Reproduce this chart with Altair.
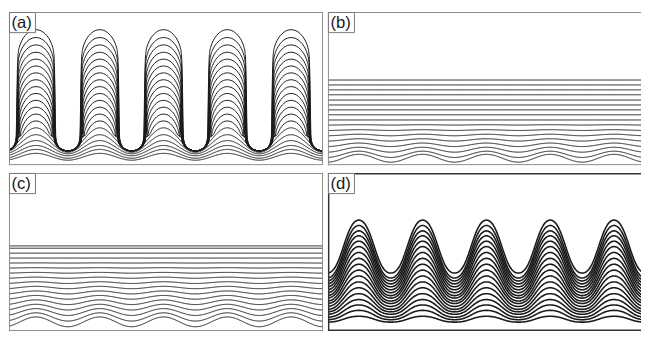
import altair as alt
import numpy as np
import pandas as pd

PERIOD = 65.0  # wavelength in reference pixels

# ---------------- panel (a): finger growth (reference page px, y down) -------------
A_CREST = [152, 148, 144, 139, 133, 126, 119, 112, 105, 98, 91, 84, 77, 70,
           63, 56, 49, 41.5, 34, 26]
A_TROUGH = [159, 157, 154.5, 152.5, 151, 150, 149.5, 149.5, 149.5, 149.5, 149.5,
            149.5, 149.5, 149.5, 149.5, 149.5, 149.5, 149.5, 149.5, 149.5]
A_CREST_X0 = 35.5
# finger cap profile: half width vs depth below the crest
ARCH_DX = [0, 4, 8, 11, 13.5, 15.5, 17, 18, 18.5, 18.9, 19.3, 19.7, 20.0, 20.2]
ARCH_DEPTH = [0, 0.7, 3, 6, 9.5, 13.6, 18, 23, 29, 40, 60, 85, 110, 130]
# trough profile: half width vs height above the trough bottom
U_DU = [0, 3, 6, 8.5, 10.5, 11.7, 12.3]
U_H = [0, 0.4, 1.6, 3.5, 6.5, 10, 14]

# ---------------- panel (b): fast decay --------------------------------------------
B_BASE = [157, 153, 148.3, 143.3, 138.3, 133.3, 128.3, 123, 118, 112.7, 107.7,
          102.7, 97.7, 92.3, 87.3, 82.3, 77.3]
B_AMP = [4, 3.2, 2.5, 1.8, 1.2, 0.8, 0.4, 0.2, 0, 0, 0, 0, 0, 0, 0, 0, 0]
B_CREST_X0 = 362.5

# ---------------- panel (c): slow decay --------------------------------------------
C_BASE = [321.7, 316.7, 311.7, 306.7, 301.7, 296.7, 291.7, 286.7, 281.7, 276.7,
          271.7, 266.7, 261.7, 256.7, 251.7, 246.7, 244.3]
C_AMP = [5, 4.2, 3.5, 2.9, 2.4, 1.9, 1.5, 1.2, 0.9, 0.6, 0.4, 0.2, 0.1, 0, 0, 0, 0]
C_CREST_X0 = 35.5

# ---------------- panel (d): moderate growth ---------------------------------------
D_CREST = [316, 310, 304.5, 299, 293, 287, 281, 275, 269, 263, 257, 251, 245,
           239.5, 234, 229, 223.5, 218]
D_TROUGH = [322, 319.5, 317, 314, 311.5, 309, 306, 303, 300.5, 297.5, 295, 292,
            289, 286, 283, 280, 277, 272]
D_CREST_X0 = 362.5

LABELS = ["(a)", "(b)", "(c)", "(d)"]


def wave_points(crest, trough, xc0, xmin, xmax, a2frac=0.0, a3frac=0.0):
    x = np.arange(xmin - 3, xmax + 3, 0.5)
    phi = 2 * np.pi * (x - xc0) / PERIOD
    amp = trough - crest
    a3 = a3frac * amp
    a2 = a2frac * amp
    a1 = amp / 2 - a3
    mean = (crest + trough) / 2 + a2
    y = mean - a1 * np.cos(phi) - a2 * np.cos(2 * phi) - a3 * np.cos(3 * phi)
    return x, y


def arch_points(crest, trough, xc0, xmin, xmax, scale=1.0):
    xs, ys = [], []
    join = trough - U_H[-1]
    uscale = (PERIOD / 2 - ARCH_DX[-1] * scale) / U_DU[-1]
    for j in range(-1, 7):
        xc = xc0 + PERIOD * j
        xt = xc + PERIOD / 2
        for dx, dep in zip(ARCH_DX, ARCH_DEPTH):
            if crest + dep < join:
                xs += [xc - dx * scale, xc + dx * scale]
                ys += [crest + dep, crest + dep]
        for du, h in zip(U_DU, U_H):
            xs += [xt - du * uscale, xt + du * uscale]
            ys += [trough - h, trough - h]
    df = pd.DataFrame({"x": xs, "y": ys}).drop_duplicates("x").sort_values("x")
    df = df[(df.x > xmin - 40) & (df.x < xmax + 40)]
    return df.x.values, df.y.values


def build(curves, bottom):
    rows = []
    for k, (x, y) in enumerate(curves):
        for i, (xx, yy) in enumerate(zip(x, y)):
            rows.append({"curve": k, "i": i, "x": float(xx), "h": float(bottom - yy)})
    return pd.DataFrame(rows)


# panel geometry (in chart px)
W_L, W_R = 320, 319
H_TOP, H_BOT = 156, 161
XD_L = [8, 328]
XD_R = [331, 650]

curves_a = []
n_a = len(A_CREST)
for k, (c, t) in enumerate(zip(A_CREST, A_TROUGH)):
    if t - c >= 30:
        rank = n_a - 1 - k  # 0 for the outermost finger
        curves_a.append(arch_points(c, t, A_CREST_X0, *XD_L, scale=1 - 0.008 * rank))
    else:
        curves_a.append(wave_points(c, t, A_CREST_X0, *XD_L))
df_a = build(curves_a, 164)

curves_b = [wave_points(b - a, b + a, B_CREST_X0, *XD_R) for b, a in zip(B_BASE, B_AMP)]
df_b = build(curves_b, 164)

curves_c = [wave_points(b - a, b + a, C_CREST_X0, *XD_L) for b, a in zip(C_BASE, C_AMP)]
df_c = build(curves_c, 331)

curves_d = [wave_points(c, t, D_CREST_X0, *XD_R, a2frac=0.015, a3frac=-0.02)
            for c, t in zip(D_CREST, D_TROUGH)]
df_d = build(curves_d, 331)


def panel(df, xdom, w, h, label, lw, frame_color, frame_w, right_frame):
    lines = alt.Chart(df).mark_line(clip=True, color="#1b1b1b", strokeWidth=lw,
                                    interpolate="monotone").encode(
        x=alt.X("x:Q", scale=alt.Scale(domain=xdom, nice=False, zero=False), axis=None),
        y=alt.Y("h:Q", scale=alt.Scale(domain=[0, h], nice=False, zero=False), axis=None),
        detail="curve:N",
        order="i:Q",
    )
    one = pd.DataFrame({"k": [0]})
    hw = frame_w / 2
    frames = [
        alt.Chart(one).mark_rule(color=frame_color, strokeWidth=frame_w).encode(
            x=alt.value(0), x2=alt.value(w), y=alt.value(hw)),
        alt.Chart(one).mark_rule(color=frame_color, strokeWidth=frame_w).encode(
            x=alt.value(0), x2=alt.value(w), y=alt.value(h - hw)),
        alt.Chart(one).mark_rule(color=frame_color, strokeWidth=frame_w).encode(
            x=alt.value(hw), y=alt.value(0), y2=alt.value(h)),
    ]
    if right_frame:
        frames.append(alt.Chart(one).mark_rule(color=frame_color, strokeWidth=frame_w).encode(
            x=alt.value(w - hw), y=alt.value(0), y2=alt.value(h)))
    box = alt.Chart(one).mark_rect(fill="white", stroke="#777777", strokeWidth=1).encode(
        x=alt.value(0.5), x2=alt.value(27), y=alt.value(0.5), y2=alt.value(21))
    txt = alt.Chart(pd.DataFrame({"t": [label]})).mark_text(
        align="left", baseline="middle", font="Liberation Sans", fontSize=17,
        color="#1b1b1b").encode(x=alt.value(2.5), y=alt.value(11.5), text="t:N")
    return alt.layer(lines, *frames, box, txt).properties(width=w, height=h)


pa = panel(df_a, XD_L, W_L, H_TOP, LABELS[0], 1.0, "#8c8c8c", 1, True)
pb = panel(df_b, XD_R, W_R, H_TOP, LABELS[1], 1.0, "#8c8c8c", 1, False)
pc = panel(df_c, XD_L, W_L, H_BOT, LABELS[2], 1.0, "#8c8c8c", 1, True)
pd_ = panel(df_d, XD_R, W_R, H_BOT, LABELS[3], 1.6, "#333333", 1.5, False)

chart = alt.vconcat(
    alt.hconcat(pa, pb, spacing=3),
    alt.hconcat(pc, pd_, spacing=3),
    spacing=6,
).properties(padding=0, background="white").configure_view(stroke=None)

chart.save("out.html", embed_options={"renderer": "svg", "actions": False})
